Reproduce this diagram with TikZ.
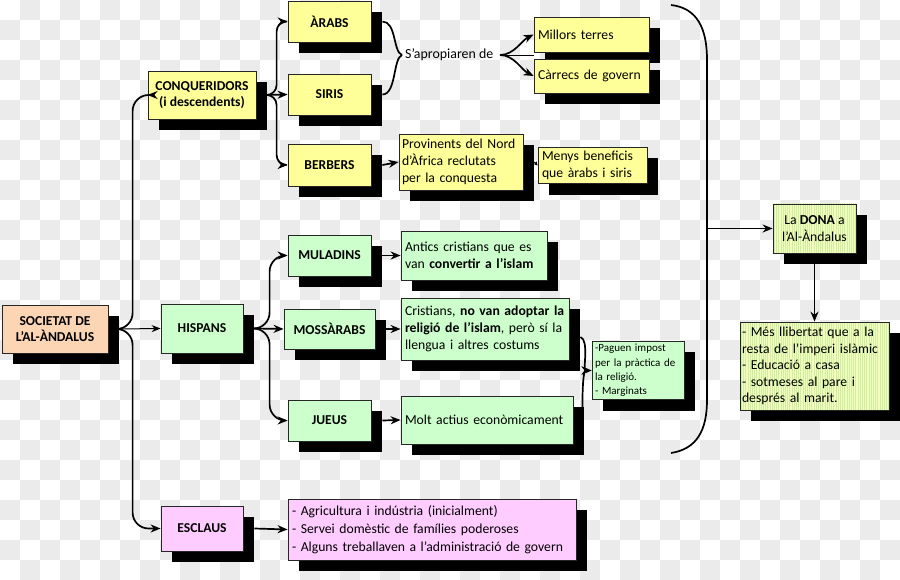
\documentclass[tikz,border=0pt]{standalone}
\usepackage{fontspec}
\setmainfont{Carlito}
\usetikzlibrary{shadows,arrows.meta,patterns.meta,calc}
\definecolor{ylw}{HTML}{FFFF99}
\definecolor{grn}{HTML}{CCFFCC}
\definecolor{pnk}{HTML}{FFCCFF}
\definecolor{pch}{HTML}{FCD5B4}
\definecolor{lim}{HTML}{F6FCC0}
\definecolor{limstripe}{HTML}{CDEFA0}
\definecolor{chk}{HTML}{EBEBEB}
\definecolor{edge}{HTML}{262626}
\begin{document}
\begin{tikzpicture}[x=1pt,y=-1pt,
  box/.style={draw=edge, line width=0.8pt,
    drop shadow={shadow xshift=11pt,shadow yshift=-11pt,opacity=1,fill=black},
    inner sep=4pt, font=\fontsize{13.7}{17}\selectfont},
  lab/.style={box, font=\bfseries\fontsize{13.6}{16.5}\selectfont, align=center},
  desc/.style={box, align=left, text width=#1},
  donabox/.style={fill=lim, postaction={pattern={Lines[angle=90,distance=2.2pt,line width=0.9pt]}, pattern color=limstripe},
    postaction={draw=edge, line width=0.8pt}},
  arr/.style={line width=1.7pt, -{Stealth[length=10pt,width=8pt]}},
  thinarr/.style={line width=1pt, -{Stealth[length=9pt,width=7pt]}},
  smallarr/.style={line width=1pt, -{Stealth[length=4pt,width=4pt]}},
  brc/.style={line width=1.7pt},
  plain/.style={font=\fontsize{13.9}{16}\selectfont, inner sep=0pt}
]
\useasboundingbox (0,0) rectangle (900,580);
\fill[white] (0,0) rectangle (900,580);
\foreach \j in {0,...,28}{\foreach \i in {0,...,44}{%
  \pgfmathtruncatemacro{\p}{mod(\i+\j,2)}%
  \ifnum\p=1 \fill[chk] (\i*20,\j*20) rectangle ++(20,20);\fi}}

% ---- nodes
\node[lab, fill=pch, minimum width=106pt, minimum height=48pt] (soc) at (55,329) {SOCIETAT DE\\L’AL-ÀNDALUS};
\node[lab, fill=ylw, minimum width=108pt, minimum height=48pt] (conq) at (202,95) {CONQUERIDORS\\(i descendents)};
\node[lab, fill=ylw, minimum width=83pt, minimum height=41pt] (arabs) at (329.5,21.5) {ÀRABS};
\node[lab, fill=ylw, minimum width=83pt, minimum height=41pt] (siris) at (329.5,94.5) {SIRIS};
\node[lab, fill=ylw, minimum width=83pt, minimum height=42pt] (berbers) at (329.5,165) {BERBERS};
\node[desc=107pt, fill=ylw, minimum height=35pt] (millors) at (591.5,34.5) {Millors terres};
\node[desc=107pt, fill=ylw, minimum height=34pt] (carrecs) at (591.5,76) {Càrrecs de govern};
\node[desc=118pt, inner xsep=3pt, fill=ylw, minimum height=56pt] (prov) at (461,162) {Provinents del Nord\\d’Àfrica reclutats\\per la conquesta};
\node[desc=101pt, fill=ylw, minimum height=35pt] (menys) at (592.5,165.5) {Menys beneficis\\que àrabs i siris};

\node[lab, fill=grn, minimum width=82pt, minimum height=49pt] (hisp) at (202,328.5) {HISPANS};
\node[lab, fill=grn, minimum width=83pt, minimum height=41pt] (mul) at (329.5,255.5) {MULADINS};
\node[desc=138pt, fill=grn, minimum height=49pt] (antics) at (474,255.5) {Antics cristians que es\\van \textbf{convertir a l’islam}};
\node[lab, fill=grn, minimum width=91pt, minimum height=40pt] (moss) at (329.5,329) {MOSSÀRABS};
\node[desc=160pt, fill=grn, minimum height=62pt] (crist) at (485,329) {Cristians, \textbf{no van adoptar la}\\\textbf{religió de l’islam}, però sí la\\llengua i altres costums};
\node[desc=86pt, inner sep=3pt, fill=grn, minimum height=55pt, font=\fontsize{11}{14.3}\selectfont] (pag) at (638,370.5) {-Paguen impost\\per la pràctica de\\la religió.\\- Marginats};
\node[lab, fill=grn, minimum width=83pt, minimum height=41pt] (jueus) at (329.5,420.5) {JUEUS};
\node[desc=164pt, fill=grn, minimum height=48pt] (molt) at (487,420) {Molt actius econòmicament};

\node[lab, fill=pnk, minimum width=82pt, minimum height=45pt] (escl) at (202,528.5) {ESCLAUS};
\node[desc=280pt, fill=pnk, minimum height=61pt, font=\fontsize{13.7}{18}\selectfont] (agri) at (432,529.5) {- Agricultura i indústria (inicialment)\\- Servei domèstic de famílies poderoses\\- Alguns treballaven a l’administració de govern};

\node[box, donabox, align=center, minimum width=83pt, minimum height=49pt] (dona) at (814.5,228.5) {La \textbf{DONA} a\\l’Al-Àndalus};
\node[box, donabox, align=left, text width=145pt, inner sep=2pt, minimum height=88pt, font=\fontsize{13.7}{16.6}\selectfont] (mes) at (814.5,366) {- Més llibertat que a la\\resta de l’imperi islàmic\\- Educació a casa\\- sotmeses al pare i\\després al marit.};

\coordinate (tip) at (402,55);
\node[plain, anchor=west] (sap) at (405,55) {S’apropiaren de};
\coordinate (fork) at (500,55);
\coordinate (bmid) at (707,228.5);

% ---- connectors
\draw[arr, rounded corners=16pt] ([xshift=10pt]soc.east) -| ([xshift=-15pt]conq.west) -- (conq.west);
\draw[thinarr] ([xshift=10pt]soc.east) -- (hisp.west);
\draw[arr, rounded corners=16pt] ([xshift=10pt]soc.east) -| ([xshift=-28pt]escl.west) -- (escl.west);

\draw[arr, rounded corners=10pt] ([xshift=11pt]conq.east) -| ([xshift=-11pt]arabs.west) -- (arabs.west);
\draw[arr] ([xshift=11pt]conq.east) -- (siris.west);
\draw[arr, rounded corners=10pt] ([xshift=11pt]conq.east) -| ([xshift=-11pt]berbers.west) -- (berbers.west);

\draw[arr, rounded corners=16pt] ([xshift=11pt]hisp.east) -| ([xshift=-18pt]mul.west) -- (mul.west);
\draw[arr] ([xshift=11pt]hisp.east) -- (moss.west);
\draw[arr, rounded corners=16pt] ([xshift=11pt]hisp.east) -| ([xshift=-18pt]jueus.west) -- (jueus.west);

\draw[arr] ([xshift=11pt]mul.east) -- (antics.west);
\draw[arr] ([xshift=11pt]moss.east) -- (crist.west);
\draw[arr] ([xshift=11pt]jueus.east) -- (molt.west);
\draw[arr] ([xshift=11pt]escl.east) -- (agri.west);
\draw[arr] ([xshift=11pt]berbers.east) -- (prov.west);
\draw[smallarr] ([xshift=11pt]prov.east) -- (menys.west);

\draw[brc] ([xshift=11pt]arabs.east) .. controls +(14,0) and +(-9,-3) .. (tip);
\draw[brc] ([xshift=11pt]siris.east) .. controls +(14,0) and +(-9,3) .. (tip);
\draw[line width=0.8pt] (fork) -- (fork -| millors.west);
\draw[arr] (fork) .. controls +(14,0) and +(-12,6) .. (millors.west);
\draw[arr] (fork) .. controls +(14,0) and +(-12,-6) .. (carrecs.west);

\draw[arr] ([xshift=11pt,yshift=-8pt]crist.east) .. controls +(9,3) and +(-9,0) .. (pag.west);
\draw[arr] ([xshift=9pt,yshift=-12pt]molt.north east) .. controls +(0,-22) and +(-8,0) .. (pag.west);

\draw[brc] (671,5) .. controls (697,8) and (707,28) .. (707,60) -- (707,400) .. controls (707,430) and (697,449) .. (671,453);
\draw[arr] (bmid) -- (dona.west);
\draw[arr] ([yshift=-11pt]dona.south) -- (mes.north);
\end{tikzpicture}
\end{document}
